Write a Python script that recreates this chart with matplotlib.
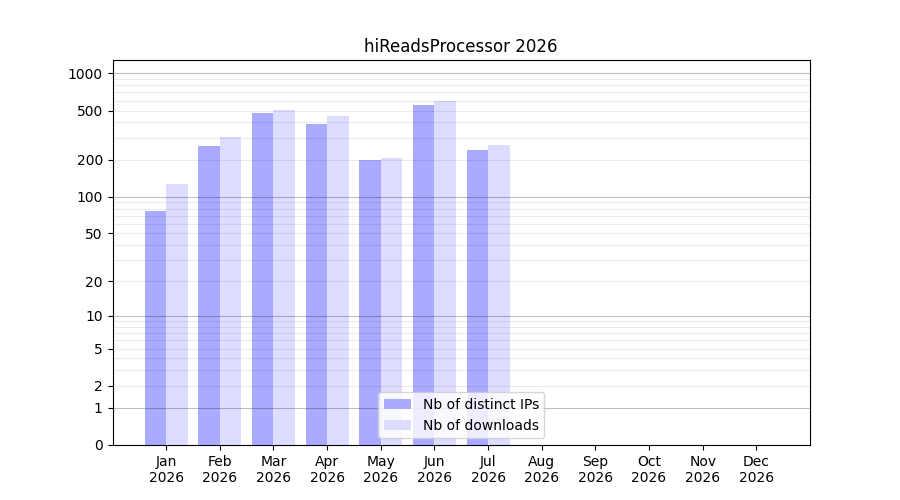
import numpy as np
import matplotlib
matplotlib.use("Agg")
import matplotlib.pyplot as plt

months = ["Jan", "Feb", "Mar", "Apr", "May", "Jun",
          "Jul", "Aug", "Sep", "Oct", "Nov", "Dec"]
year = "2026"
distinct_ips = [77, 258, 478, 389, 199, 554, 239, 0, 0, 0, 0, 0]
downloads = [127, 306, 505, 452, 207, 597, 263, 0, 0, 0, 0, 0]
ytick_values = [0, 1, 2, 5, 10, 20, 50, 100, 200, 500, 1000]


def fwd(y):
    return np.log10(1 + np.asarray(y, dtype=float))


def inv(y):
    return 10 ** np.asarray(y, dtype=float) - 1


fig, ax = plt.subplots(figsize=(9, 5), dpi=100)
x = np.arange(1, len(months) + 1)

ax.set_yscale("function", functions=(fwd, inv))

# grid lines over the bars, darker on decades
for dec in [1, 10, 100, 1000]:
    ax.axhline(dec, color="black", alpha=0.25, lw=0.8, zorder=3)
    for k in range(2, 10):
        v = dec * k
        if v < 1300:
            ax.axhline(v, color="black", alpha=0.08, lw=0.8, zorder=3)

ax.bar(x, distinct_ips, width=-0.4, align="edge", color="#aaaaff",
       label="Nb of distinct IPs", zorder=2)
ax.bar(x, downloads, width=0.4, align="edge", color="#ddddff",
       label="Nb of downloads", zorder=2)

ax.set_ylim(0, 1280)
ax.set_xlim(0, 13)
ax.set_yticks(ytick_values)
ax.set_yticklabels([str(v) for v in ytick_values])
ax.minorticks_off()
ax.set_xticks(x)
ax.set_xticklabels([f"{m}\n{year}" for m in months])

ax.set_title("hiReadsProcessor 2026")
ax.legend(loc="lower center")

fig.savefig("out.png")
